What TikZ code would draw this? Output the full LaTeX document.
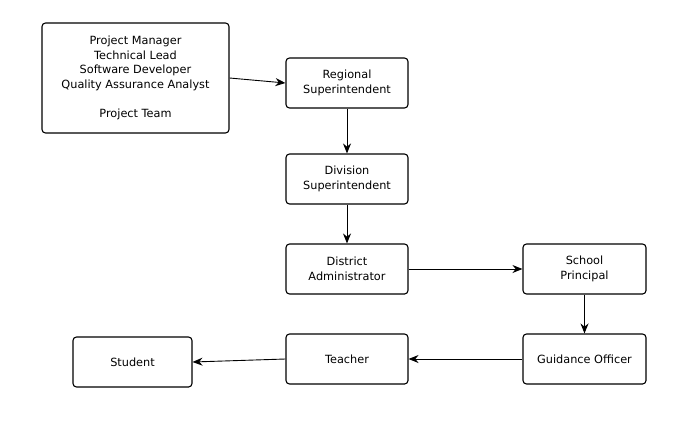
\documentclass[tikz,border=0pt]{standalone}
\usepackage{fontspec}
\setmainfont{DejaVu Sans}
\usetikzlibrary{arrows.meta}

\begin{document}
\begin{tikzpicture}[x=1pt, y=-1pt,
    box/.style={draw, line width=1.1pt, rounded corners=3.5pt, fill=white,
        align=center, font=\fontsize{11.3}{14.7}\selectfont, inner sep=0pt},
    role/.style={box, minimum width=122pt, minimum height=50pt},
    flow/.style={->, line width=0.9pt, >={Stealth[length=10pt, width=8pt]}}]
    \useasboundingbox (0,0) rectangle (677,426);

    % Project team
    \node[box, minimum width=187pt, minimum height=110pt] (team) at (135.5,78)
        {Project Manager\\Technical Lead\\Software Developer\\Quality Assurance Analyst\\[14.7pt]Project Team};

    % Chain of roles
    \node[role] (regional) at (347,83) {Regional\\Superintendent};
    \node[role] (division) at (347,179) {Division\\Superintendent};
    \node[role] (district) at (347,269) {District\\Administrator};
    \node[role, minimum width=123pt] (school) at (584.5,269) {School\\Principal};
    \node[role, minimum width=123pt] (guidance) at (584.5,359) {Guidance Officer};
    \node[role] (teacher) at (347,359) {Teacher};
    \node[role, minimum width=119pt] (student) at (132.5,362) {Student};

    % Connections
    \draw[flow] (team.east) -- (regional.west);
    \draw[flow] (regional) -- (division);
    \draw[flow] (division) -- (district);
    \draw[flow] (district) -- (school);
    \draw[flow] (school) -- (guidance);
    \draw[flow] (guidance) -- (teacher);
    \draw[flow] (teacher.west) -- (student.east);

\end{tikzpicture}
\end{document}
